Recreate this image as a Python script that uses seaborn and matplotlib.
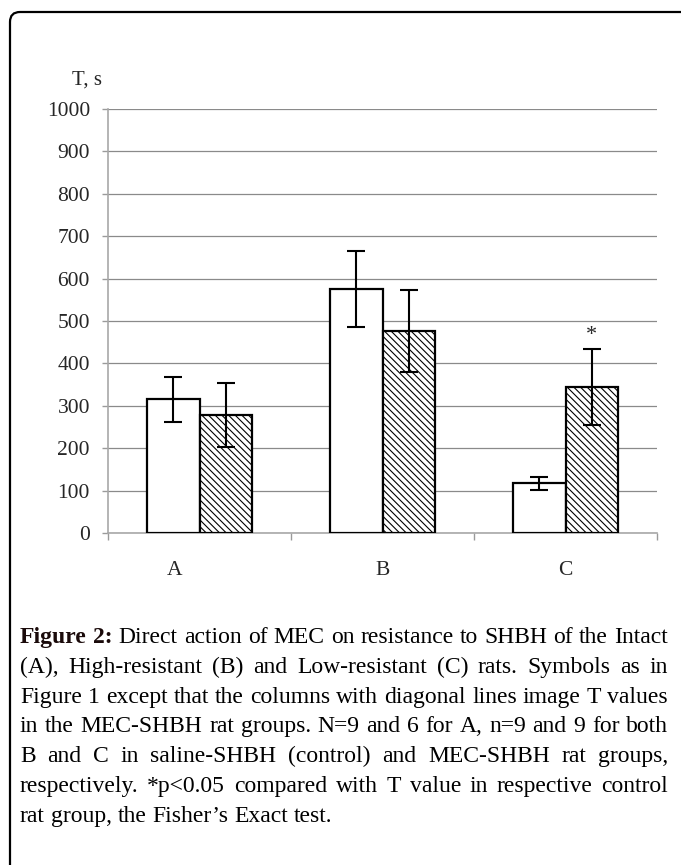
import numpy as np
import pandas as pd
import seaborn as sns
import matplotlib.pyplot as plt
from matplotlib.patches import FancyBboxPatch
from matplotlib.transforms import ScaledTranslation

# data
groups = ['A', 'B', 'C']
control_T = [315, 575, 117]
mec_T = [278, 476, 344]
control_err = [53, 90, 16]
mec_err = [76, 97, 90]
yticks = [0, 100, 200, 300, 400, 500, 600, 700, 800, 900, 1000]

caption_lines = [
    "Figure 2: Direct action of MEC on resistance to SHBH of the Intact",
    "(A), High-resistant (B) and Low-resistant (C) rats. Symbols as in",
    "Figure 1 except that the columns with diagonal lines image T values",
    "in the MEC-SHBH rat groups. N=9 and 6 for A, n=9 and 9 for both",
    "B and C in saline-SHBH (control) and MEC-SHBH rat groups,",
    "respectively. *p<0.05 compared with T value in respective control",
    "rat group, the Fisher\u2019s Exact test.",
]

df = pd.DataFrame({
    'group': groups * 2,
    'T': control_T + mec_T,
    'err': control_err + mec_err,
    'treatment': ['saline'] * 3 + ['MEC'] * 3,
})

sns.set_style("white")
plt.rcParams['font.family'] = ['Liberation Serif', 'DejaVu Serif']
plt.rcParams['hatch.linewidth'] = 0.8

W, H = 681, 865
fig = plt.figure(figsize=(W / 100, H / 100), dpi=100)

# rounded frame around the panel
frame = FancyBboxPatch((0.10, -1.0), 8.0, 9.53, boxstyle="round,pad=0,rounding_size=0.1",
                       transform=fig.dpi_scale_trans, fill=False, lw=1.6, ec='black')
fig.patches.append(frame)

ax = fig.add_axes([108 / W, 1 - 533 / H, (657 - 108) / W, (533 - 109) / H])
sns.barplot(data=df, x='group', y='T', hue='treatment', palette=['white', 'white'],
            edgecolor='black', linewidth=1.6, width=0.57, errorbar=None,
            legend=False, ax=ax, zorder=3)

# hatched MEC columns + error bars taken from the drawn bars
for cont, errs in zip(ax.containers, [control_err, mec_err]):
    xs = [p.get_x() + p.get_width() / 2 for p in cont.patches]
    hs = [p.get_height() for p in cont.patches]
    ax.errorbar(xs, hs, yerr=errs, fmt='none', ecolor='black', elinewidth=1.5,
                capsize=6.5, capthick=1.5, zorder=4)
for p in ax.containers[1].patches:
    p.set_hatch('\\\\\\\\\\')

star_bar = ax.containers[1].patches[2]
ax.text(star_bar.get_x() + star_bar.get_width() / 2, mec_T[2] + mec_err[2] + 10, '*',
        ha='center', va='bottom', fontsize=16)

ax.set_ylim(0, 1000)
ax.set_xlim(-0.5, 2.5)
ax.set_yticks(yticks)
ax.set_yticklabels([str(v) for v in yticks], fontsize=15.5)
ax.yaxis.grid(True, color='#8a8a8a', lw=0.9)
ax.set_axisbelow(True)

ax.set_xticks([-0.5, 0.5, 1.5, 2.5])
ax.set_xticklabels([])
ax.set_xticks([0, 1, 2], minor=True)
ax.set_xticklabels(groups, minor=True, fontsize=15.5)
ax.tick_params(axis='x', which='major', length=5, color='#9a9a9a', width=1.0, direction='out', bottom=True)
ax.tick_params(axis='x', which='minor', length=0, pad=20)
ax.tick_params(axis='y', length=4, color='#9a9a9a', width=1.0, direction='out', left=True, pad=9)
# first group label sits a bit left in the original
lab = ax.xaxis.get_minor_ticks()[0].label1
lab.set_transform(lab.get_transform() + ScaledTranslation(-0.25, 0, fig.dpi_scale_trans))

for s in ['top', 'right']:
    ax.spines[s].set_visible(False)
for s in ['left', 'bottom']:
    ax.spines[s].set_color('#a8a8a8')
    ax.spines[s].set_linewidth(1.2)
ax.set_xlabel('')
ax.set_ylabel('')

fig.text(72 / W, 1 - 80 / H, 'T, s', fontsize=15, ha='left', va='center')

# justified caption
renderer = fig.canvas.get_renderer()
left, right = 20, 668
cap_size = 17
for i, line in enumerate(caption_lines):
    ybase = 1 - (643 + 29.8 * i) / H
    words = line.split(' ')
    texts = []
    for j, w in enumerate(words):
        bold = (i == 0 and j < 2)
        t = fig.text(0, ybase, w, fontsize=cap_size, va='baseline', ha='left',
                     fontweight='bold' if bold else 'normal', color='#1a0a0a' if bold else 'black')
        texts.append(t)
    widths = [t.get_window_extent(renderer).width for t in texts]
    if i < len(caption_lines) - 1:
        gap = (right - left - sum(widths)) / (len(words) - 1)
    else:
        sp = fig.text(0, 0, 'a a', fontsize=cap_size)
        sp2 = fig.text(0, 0, 'aa', fontsize=cap_size)
        gap = sp.get_window_extent(renderer).width - sp2.get_window_extent(renderer).width
        sp.remove()
        sp2.remove()
    x = left
    for t, w in zip(texts, widths):
        t.set_x(x / W)
        x += w + gap

fig.savefig('out.png', dpi=100)
